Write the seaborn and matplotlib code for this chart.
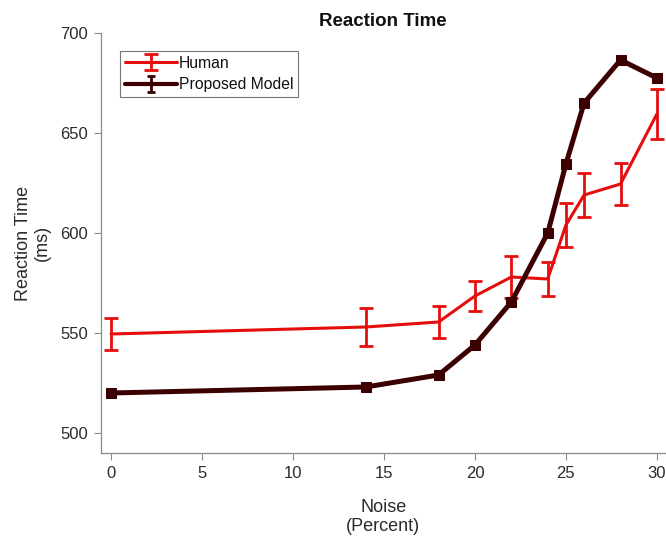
import matplotlib
matplotlib.use("Agg")
import matplotlib.pyplot as plt
import matplotlib.lines as mlines
import seaborn as sns
import pandas as pd
from matplotlib.legend_handler import HandlerTuple

noise = [0, 14, 18, 20, 22, 24, 25, 26, 28, 30]
human_rt = [549.5, 553, 555.5, 568.5, 578, 577, 604, 619, 624.5, 659.5]
human_err = [8, 9.5, 8, 7.5, 10.5, 8.5, 11, 11, 10.5, 12.5]
model_rt = [520, 523, 529, 544, 565.5, 600, 634.5, 665, 686.5, 677.5]
model_err = [0.6, 0.6, 0.6, 0.6, 0.6, 0.6, 0.6, 0.6, 0.6, 0.6]
series_names = ["Human", "Proposed Model"]
x_ticks = [0, 5, 10, 15, 20, 25, 30]
y_ticks = [500, 550, 600, 650, 700]

sns.set_style("ticks")
plt.rcParams["font.family"] = ["Liberation Sans", "DejaVu Sans"]

human_col = "#e60d0d"
model_col = "#3d0000"
text_col = "#2b2b2b"
axis_col = "#8a8a8a"

W, H = 666, 537
left_px, right_px, top_px, bot_px = 100.5, 666, 33, 453
fig = plt.figure(figsize=(W / 100, H / 100), dpi=100)
ax = fig.add_axes([left_px / W, 1 - bot_px / H, (right_px - left_px) / W,
                   (bot_px - top_px) / H])

df_h = pd.DataFrame({"noise": noise, "rt": human_rt})
df_m = pd.DataFrame({"noise": noise, "rt": model_rt})

sns.lineplot(data=df_h, x="noise", y="rt", ax=ax, color=human_col, lw=2.2,
             zorder=3, legend=False)
sns.lineplot(data=df_m, x="noise", y="rt", ax=ax, color=model_col, lw=3.6,
             marker="s", markersize=6.5, markeredgecolor=model_col,
             zorder=4, legend=False)
eb_h = ax.errorbar(noise, human_rt, yerr=human_err, fmt="none", ecolor=human_col,
                   elinewidth=2.0, capsize=5, capthick=2.0, zorder=3)
eb_m = ax.errorbar(noise, model_rt, yerr=model_err, fmt="none", ecolor=model_col,
                   elinewidth=2.0, capsize=3, capthick=2.0, zorder=4)

lh = mlines.Line2D([], [], color=human_col, lw=2.2)
lm = mlines.Line2D([], [], color=model_col, lw=3.0)
leg = ax.legend([(lh, eb_h), (lm, eb_m)], series_names,
                handler_map={tuple: HandlerTuple(ndivide=1)},
                loc="upper left", bbox_to_anchor=(0.035, 0.957),
                frameon=True, fancybox=False, fontsize=11.3, handlelength=3.3,
                handletextpad=0.15, borderpad=0.3, labelspacing=0.42,
                borderaxespad=0)
leg.get_frame().set_edgecolor("#555555")
leg.get_frame().set_linewidth(0.8)
for t in leg.get_texts():
    t.set_color("#111111")

ax.set_xlim(-0.58, 30.5)
ax.set_ylim(490, 700)
ax.set_xticks(x_ticks)
ax.set_yticks(y_ticks)
ax.tick_params(axis="both", direction="out", length=5, width=0.8, color=axis_col,
               labelsize=12, labelcolor=text_col, pad=4)
for s in ["top", "right"]:
    ax.spines[s].set_visible(False)
for s in ["left", "bottom"]:
    ax.spines[s].set_color(axis_col)
    ax.spines[s].set_linewidth(0.9)

ax.set_xlabel("Noise\n(Percent)", fontsize=13, color=text_col, labelpad=13,
              linespacing=1.2)
ax.set_ylabel("Reaction Time\n(ms)", fontsize=13, color=text_col, labelpad=7,
              linespacing=1.1)
ax.set_title("Reaction Time", fontsize=13.5, fontweight="bold", color="#111111",
             pad=5)

fig.savefig("out.png", dpi=100)
